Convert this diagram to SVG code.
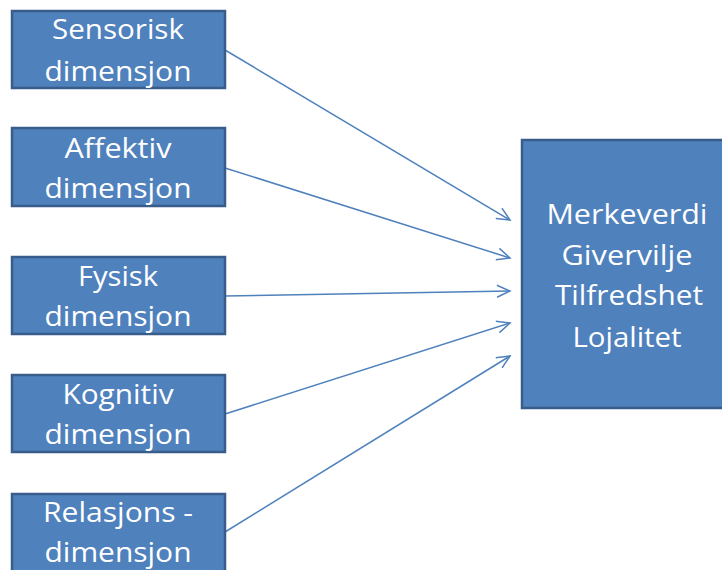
<svg xmlns="http://www.w3.org/2000/svg" width="722" height="570" viewBox="0 0 722 570">
  <defs>
    <style>
      .box { fill: #4F81BD; stroke: #385D8A; stroke-width: 2.5; }
      .lbl { fill: #FFFFFF; font-family: "Open Sans", "Liberation Sans", sans-serif; font-size: 28px; text-anchor: middle; }
      .edge { fill: none; stroke: #4F81BD; stroke-width: 1.5; marker-end: url(#arrow); }
    </style>
    <marker id="arrow" markerWidth="16" markerHeight="14" refX="14" refY="7" orient="auto" markerUnits="userSpaceOnUse">
      <path d="M1,1 L14,7 L1,13" fill="none" stroke="#4F81BD" stroke-width="1.5"/>
    </marker>
  </defs>
  <rect width="722" height="570" fill="#FFFFFF"/>

  <g id="connectors">
    <line class="edge" x1="225" y1="50" x2="510" y2="220"/>
    <line class="edge" x1="225" y1="168" x2="510" y2="258"/>
    <line class="edge" x1="225" y1="296" x2="510" y2="291"/>
    <line class="edge" x1="225" y1="414" x2="510" y2="323"/>
    <line class="edge" x1="225" y1="532" x2="510" y2="356"/>
  </g>

  <g id="sensorisk">
    <rect class="box" x="12" y="11" width="213" height="77"/>
    <text class="lbl" x="118" y="39" textLength="132" lengthAdjust="spacingAndGlyphs">Sensorisk</text>
    <text class="lbl" x="118" y="81" textLength="147" lengthAdjust="spacingAndGlyphs">dimensjon</text>
  </g>

  <g id="affektiv">
    <rect class="box" x="12" y="128" width="213" height="78"/>
    <text class="lbl" x="118" y="158" textLength="107" lengthAdjust="spacingAndGlyphs">Affektiv</text>
    <text class="lbl" x="118" y="198" textLength="147" lengthAdjust="spacingAndGlyphs">dimensjon</text>
  </g>

  <g id="fysisk">
    <rect class="box" x="12" y="257" width="213" height="77"/>
    <text class="lbl" x="118" y="286" textLength="80" lengthAdjust="spacingAndGlyphs">Fysisk</text>
    <text class="lbl" x="118" y="326" textLength="147" lengthAdjust="spacingAndGlyphs">dimensjon</text>
  </g>

  <g id="kognitiv">
    <rect class="box" x="12" y="375" width="213" height="77"/>
    <text class="lbl" x="118" y="404" textLength="111" lengthAdjust="spacingAndGlyphs">Kognitiv</text>
    <text class="lbl" x="118" y="444" textLength="147" lengthAdjust="spacingAndGlyphs">dimensjon</text>
  </g>

  <g id="relasjons">
    <rect class="box" x="12" y="494" width="213" height="80"/>
    <text class="lbl" x="118" y="522" textLength="150" lengthAdjust="spacingAndGlyphs">Relasjons -</text>
    <text class="lbl" x="118" y="562" textLength="147" lengthAdjust="spacingAndGlyphs">dimensjon</text>
  </g>

  <g id="utfall">
    <rect class="box" x="522" y="140" width="210" height="268"/>
    <text class="lbl" x="627" y="224" textLength="161" lengthAdjust="spacingAndGlyphs">Merkeverdi</text>
    <text class="lbl" x="627" y="265" textLength="131" lengthAdjust="spacingAndGlyphs">Givervilje</text>
    <text class="lbl" x="629" y="305" textLength="148" lengthAdjust="spacingAndGlyphs">Tilfredshet</text>
    <text class="lbl" x="627" y="347" textLength="109" lengthAdjust="spacingAndGlyphs">Lojalitet</text>
  </g>
</svg>
